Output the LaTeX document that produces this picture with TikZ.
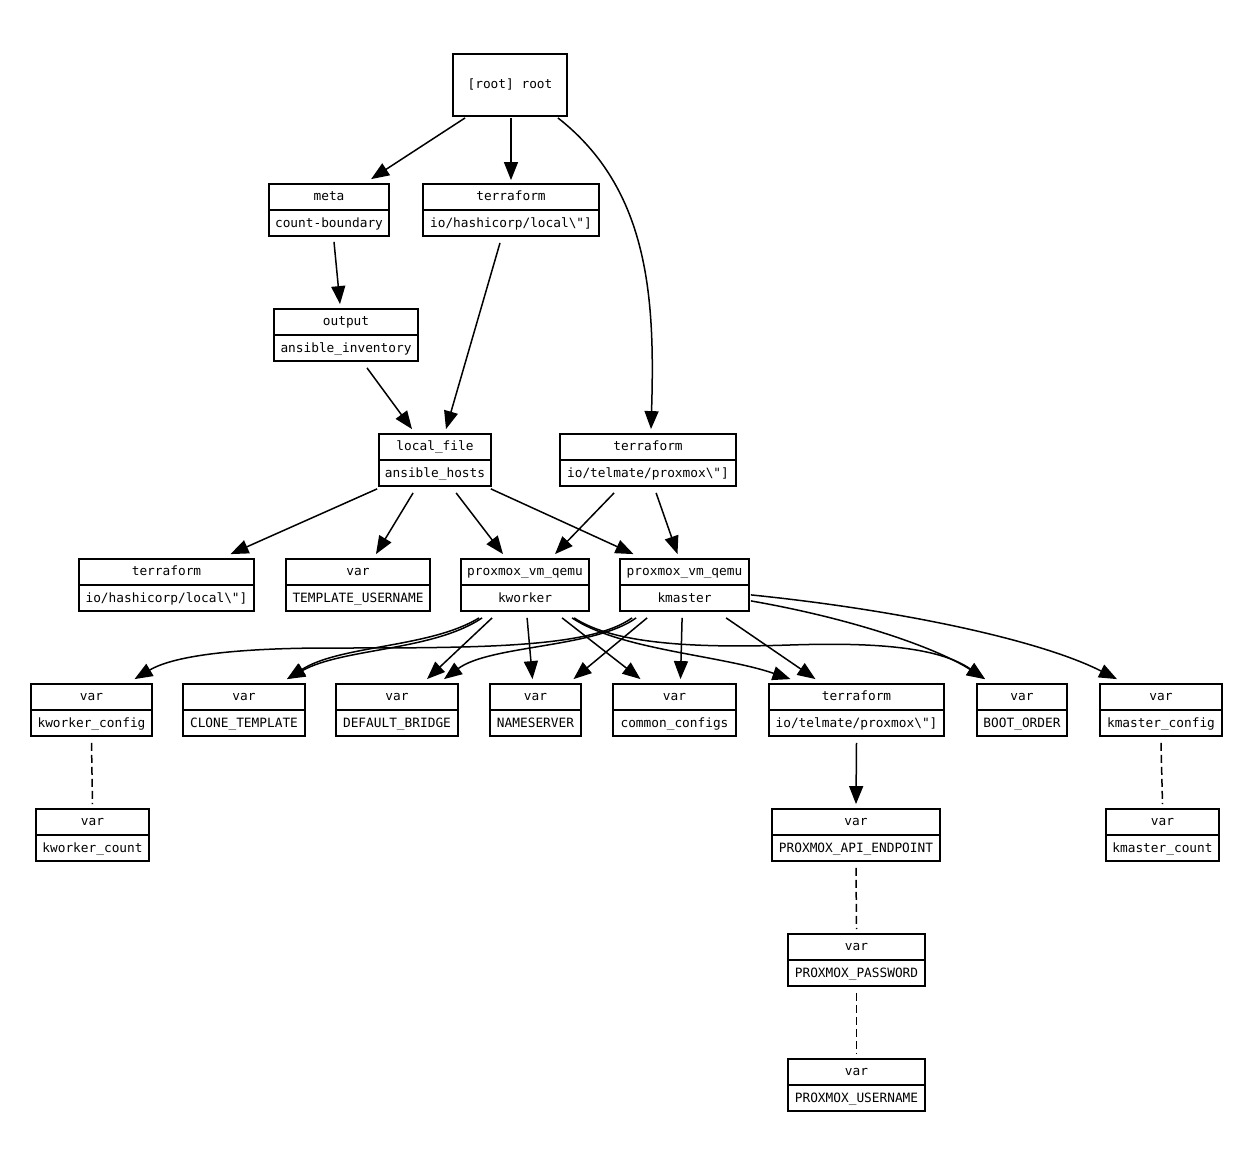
\documentclass[tikz,border=0pt]{standalone}
\usepackage{fontspec}
\setmonofont{DejaVu Sans Mono}
\usetikzlibrary{arrows.meta,calc}
\tikzset{
  recbox/.style={draw, line width=1.8pt, inner sep=0pt, fill=white},
  recline/.style={line width=1.5pt},
  lbl/.style={font=\ttfamily\fontsize{12.8}{14}\selectfont, inner sep=0pt, text height=9pt, text depth=1pt},
  edge/.style={line width=1.5pt, -{Triangle[length=18pt,width=14pt]}},
  dep/.style={line width=1.5pt, dash pattern=on 8pt off 4pt},
}
\newcommand\rec[7]{%
  \node[recbox, minimum width={#4-#2}, minimum height={#5-#3}] (#1) at ({(#2+#4)/2},{(#3+#5)/2}) {};
  \draw[recline] (#1.west) -- (#1.east);
  \node[lbl] (#1-t) at ($(#1.north)!0.25!(#1.south)$) {#6};
  \node[lbl] (#1-b) at ($(#1.north)!0.75!(#1.south)$) {#7};
}
\begin{document}
\begin{tikzpicture}[x=1pt,y=-1pt]
\fill[white] (0,0) rectangle (1245,1169);
\useasboundingbox (0,0) rectangle (1245,1169);

% root
\node[recbox, minimum width=114, minimum height=62] (root) at (510,85) {};
\node[lbl] (root-t) at (root.center) {[root] root};

\rec{meta}{269}{184}{389}{236}{meta}{count-boundary}
\rec{tfl}{423}{184}{599}{236}{terraform}{io/hashicorp/local\textbackslash"]}
\rec{out}{274}{309}{418}{361}{output}{ansible\_inventory}
\rec{lf}{379}{434}{491}{486}{local\_file}{ansible\_hosts}
\rec{tfp}{560}{434}{736}{486}{terraform}{io/telmate/proxmox\textbackslash"]}
\rec{tfl2}{79}{559}{254}{611}{terraform}{io/hashicorp/local\textbackslash"]}
\rec{tu}{286}{559}{430}{611}{var}{TEMPLATE\_USERNAME}
\rec{kw}{461}{559}{589}{611}{proxmox\_vm\_qemu}{kworker}
\rec{km}{620}{559}{749}{611}{proxmox\_vm\_qemu}{kmaster}
\rec{kwc}{31}{684}{152}{736}{var}{kworker\_config}
\rec{ct}{183}{684}{305}{736}{var}{CLONE\_TEMPLATE}
\rec{db}{336}{684}{458}{736}{var}{DEFAULT\_BRIDGE}
\rec{ns}{490}{684}{581}{736}{var}{NAMESERVER}
\rec{cc}{613}{684}{736}{736}{var}{common\_configs}
\rec{tfp2}{769}{684}{944}{736}{terraform}{io/telmate/proxmox\textbackslash"]}
\rec{bo}{977}{684}{1067}{736}{var}{BOOT\_ORDER}
\rec{kmc}{1100}{684}{1222}{736}{var}{kmaster\_config}
\rec{kwn}{36}{809}{149}{861}{var}{kworker\_count}
\rec{api}{772}{809}{940}{861}{var}{PROXMOX\_API\_ENDPOINT}
\rec{kmn}{1106}{809}{1219}{861}{var}{kmaster\_count}
\rec{pw}{788}{934}{925}{986}{var}{PROXMOX\_PASSWORD}
\rec{un}{788}{1059}{925}{1111}{var}{PROXMOX\_USERNAME}

% top edges
\draw[edge] ($(root.south west)+(13,1)$) -- ($(meta.north west)+(103,-4)$);
\draw[edge] ($(root.south)+(1,1)$) -- ($(tfl.north)+(0,-3)$);
\draw[edge] ($(root.south east)+(-10,1)$) .. controls (650,190) and (655,300) .. ($(tfp.north)+(3,-4)$);
\draw[edge] ($(meta.south)+(5,5)$) -- ($(out.north)+(-6,-4)$);
\draw[edge] ($(tfl.south)+(-11,6)$) -- ($(lf.north)+(11,-4)$);
\draw[edge] ($(out.south)+(21,6)$) -- ($(lf.north)+(-23,-4)$);

% local_file and provider edges
\draw[edge] ($(lf.south west)+(-1,2)$) -- ($(tfl2.north)+(64,-4)$);
\draw[edge] ($(lf.south west)+(35,6)$) -- ($(tu.north)+(18,-4)$);
\draw[edge] ($(lf.south west)+(78,6)$) -- ($(kw.north)+(-22,-4)$);
\draw[edge] ($(lf.south east)+(-1,2)$) -- ($(km.north)+(-51,-4)$);
\draw[edge] ($(tfp.south west)+(55,6)$) -- ($(kw.north)+(30,-4)$);
\draw[edge] ($(tfp.south west)+(97,6)$) -- ($(km.north)+(-7,-4)$);

% kworker edges
\draw[edge] ($(kw.south west)+(19,6)$) .. controls (430,648) and (340,645) .. ($(ct.north)+(43,-4)$);
\draw[edge] ($(kw.south west)+(22,6)$) .. controls (433,651) and (343,648) .. ($(ct.north)+(43,-4)$);
\draw[edge] ($(kw.south west)+(32,6)$) -- ($(db.north)+(30,-4)$);
\draw[edge] ($(kw.south west)+(67,6)$) -- ($(ns.north)+(-3,-4)$);
\draw[edge] ($(kw.south west)+(102,6)$) -- ($(cc.north)+(-34,-4)$);
\draw[edge] ($(kw.south west)+(112,6)$) .. controls (620,650) and (720,655) .. ($(tfp2.north)+(-66,-4)$);
\draw[edge] ($(kw.south west)+(114,6)$) .. controls (615,645) and (700,648) .. (790,645) .. controls (880,642) and (940,648) .. ($(bo.north)+(-37,-4)$);

% kmaster edges
\draw[edge] ($(km.south west)+(13,6)$) .. controls (590,648) and (480,648) .. (330,648) .. controls (240,648) and (175,655) .. ($(kwc.north)+(43,-4)$);
\draw[edge] ($(km.south west)+(17,6)$) .. controls (595,648) and (490,645) .. ($(db.north)+(47,-4)$);
\draw[edge] ($(km.south west)+(28,6)$) -- ($(ns.north)+(38,-4)$);
\draw[edge] ($(km.south west)+(63,6)$) -- ($(cc.north)+(6,-4)$);
\draw[edge] ($(km.south west)+(107,6)$) -- ($(tfp2.north)+(-41,-4)$);
\draw[edge] ($(km.south east)+(1,-11)$) .. controls (860,620) and (940,650) .. ($(bo.north)+(-37,-4)$);
\draw[edge] ($(km.south east)+(1,-17)$) .. controls (900,610) and (1040,640) .. ($(kmc.north)+(-44,-4)$);

% lower edges
\draw[edge] ($(tfp2.south)+(0,6)$) -- ($(api.north)+(0,-4)$);
\draw[dep] ($(kwc.south)+(0,6)$) -- ($(kwn.north)+(0,-4)$);
\draw[dep] ($(kmc.south)+(0,6)$) -- ($(kmn.north)+(0,-4)$);
\draw[dep] ($(api.south)+(0,6)$) -- ($(pw.north)+(0,-4)$);
\draw[dep] ($(pw.south)+(0,6)$) -- ($(un.north)+(0,-4)$);
\end{tikzpicture}
\end{document}
